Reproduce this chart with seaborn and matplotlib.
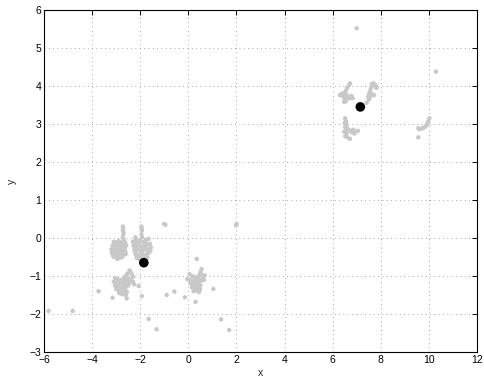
import matplotlib
matplotlib.use("Agg")
import matplotlib.pyplot as plt
import seaborn as sns
import pandas as pd

# gray data points (x, y)
pts_x = [
    # cluster A left
    -2.72, -2.72, -2.70, -2.73, -2.68, -2.71, -2.69,
    -3.10, -3.00, -2.90, -2.82, -2.75, -2.62, -3.05, -2.95, -2.86,
    -3.15, -3.05, -2.95, -2.85, -2.78, -2.65, -2.58, -3.08, -2.90, -2.70,
    -3.20, -3.12, -3.02, -2.88, -2.72, -2.62, -3.16, -2.96, -2.80, -2.66,
    -3.18, -3.08, -2.98, -2.80, -2.70, -2.60, -3.13, -2.90, -2.75,
    -3.10, -2.95, -2.85, -2.75, -3.02, -2.90,
    # cluster A right
    -1.95, -1.93, -1.95, -1.92, -2.20, -1.94, -2.18,
    -2.30, -2.20, -2.10, -2.00, -1.88, -1.75, -1.65, -2.25, -2.05, -1.80,
    -2.28, -2.15, -2.05, -1.95, -1.82, -1.70, -1.60, -2.22, -2.00, -1.76,
    -2.25, -2.12, -1.98, -1.85, -1.72, -1.62, -2.18, -1.92, -1.68,
    -2.20, -2.08, -1.90, -1.78, -1.65, -2.14, -1.84,
    -2.15, -1.95, -1.70, -1.55, -2.05, -1.58,
    # cluster B
    -2.45, -2.55, -2.35, -2.65, -2.50, -2.30, -2.40,
    -3.05, -2.95, -2.85, -2.75, -2.60, -2.40, -2.90, -2.68, -2.52,
    -3.10, -3.00, -2.90, -2.80, -2.70, -2.55, -2.45, -2.95, -2.75, -2.62,
    -3.05, -2.95, -2.85, -2.72, -2.60, -2.50, -3.00, -2.78, -2.66,
    -2.90, -2.80, -2.65, -2.55, -2.85, -2.70,
    -2.75, -2.60, -2.88, -2.30, -2.25, -2.68,
    # cluster C
    0.55, 0.50, 0.45, 0.15, 0.25, 0.35, 0.60, 0.52, 0.30,
    -0.05, 0.05, 0.15, 0.25, 0.35, 0.45, 0.55, 0.65, 0.20, 0.40,
    0.10, 0.20, 0.30, 0.40, 0.50, 0.25, 0.35, 0.45,
    0.15, 0.28, 0.40, 0.48, 0.22, 0.45, 0.34,
    0.05, 0.68,
    # scattered lower-left points
    0.35, -0.90, -0.58, -0.14, 0.30, 1.04, 1.36, 1.70,
    -1.01, -0.95, 2.01, 1.98, -3.73, -3.15, -2.56, -1.93,
    -5.81, -4.81, -1.65, -1.32, -2.07, -2.43,
    # cluster D top-left
    6.72, 6.68, 6.60, 6.55, 6.50, 6.45, 6.30, 6.38, 6.44, 6.50,
    6.55, 6.62, 6.72, 6.80, 6.83, 6.48, 6.76, 6.58,
    # cluster D top-right
    7.62, 7.70, 7.78, 7.82, 7.58, 7.55, 7.52, 7.48, 7.55, 7.65,
    7.72, 7.50, 7.41, 7.66,
    # cluster D lower
    6.52, 6.55, 6.50, 6.58, 6.52, 6.60, 6.55, 6.65, 6.75, 6.85,
    6.95, 7.05, 6.90, 6.58, 6.52, 6.62, 6.72, 6.48, 6.56, 6.80,
    # cluster E and outliers
    9.56, 9.56, 9.60, 9.72, 9.77, 9.85, 9.91, 9.95, 9.98, 10.02,
    10.29, 7.00,
]
pts_y = [
    0.30, 0.20, 0.10, 0.02, -0.05, 0.25, 0.15,
    -0.10, -0.12, -0.08, -0.15, -0.12, -0.12, -0.16, -0.14, -0.10,
    -0.20, -0.22, -0.20, -0.25, -0.22, -0.25, -0.20, -0.26, -0.28, -0.18,
    -0.30, -0.32, -0.28, -0.35, -0.32, -0.35, -0.36, -0.34, -0.30, -0.30,
    -0.40, -0.42, -0.45, -0.42, -0.45, -0.42, -0.46, -0.40, -0.38,
    -0.50, -0.55, -0.52, -0.50, -0.48, -0.48,
    0.30, 0.20, 0.10, 0.02, 0.02, 0.25, -0.02,
    -0.10, -0.08, -0.12, -0.05, -0.10, -0.05, -0.02, -0.14, -0.08, -0.12,
    -0.20, -0.22, -0.18, -0.22, -0.20, -0.18, -0.15, -0.26, -0.28, -0.25,
    -0.32, -0.30, -0.35, -0.30, -0.32, -0.30, -0.38, -0.38, -0.36,
    -0.42, -0.45, -0.42, -0.45, -0.40, -0.48, -0.48,
    -0.52, -0.50, -0.52, -0.25, -0.55, -0.34,
    -0.86, -0.95, -0.95, -1.02, -1.05, -1.02, -0.90,
    -1.05, -1.08, -1.10, -1.12, -1.12, -1.10, -1.14, -1.06, -1.15,
    -1.15, -1.18, -1.20, -1.18, -1.22, -1.20, -1.18, -1.24, -1.16, -1.26,
    -1.25, -1.28, -1.30, -1.28, -1.30, -1.25, -1.34, -1.34, -1.22,
    -1.38, -1.40, -1.38, -1.42, -1.33, -1.45,
    -1.48, -1.50, -1.45, -1.15, -1.22, -1.08,
    -0.82, -0.90, -0.98, -1.00, -1.02, -1.05, -1.05, -0.95, -1.08,
    -1.08, -1.10, -1.12, -1.15, -1.12, -1.15, -1.12, -1.10, -1.18, -1.06,
    -1.20, -1.22, -1.25, -1.20, -1.25, -1.28, -1.18, -1.28,
    -1.30, -1.32, -1.30, -1.35, -1.40, -1.42, -1.38,
    -0.95, -0.98,
    -0.55, -1.50, -1.41, -1.56, -1.68, -1.34, -2.14, -2.42,
    0.37, 0.35, 0.37, 0.33, -1.40, -1.57, -1.59, -1.53,
    -1.92, -1.92, -2.13, -2.40, -1.26, -0.86,
    4.07, 4.02, 3.95, 3.88, 3.82, 3.78, 3.76, 3.80, 3.72, 3.65,
    3.60, 3.68, 3.68, 3.72, 3.68, 3.58, 3.74, 3.76,
    4.05, 4.07, 4.02, 3.95, 3.92, 3.85, 3.80, 3.72, 3.70, 3.78,
    3.76, 3.64, 3.56, 4.00,
    3.15, 3.08, 3.02, 2.98, 2.92, 2.88, 2.82, 2.85, 2.82, 2.85,
    2.80, 2.82, 2.75, 2.75, 2.68, 2.65, 2.61, 2.80, 3.05, 2.78,
    2.65, 2.89, 2.86, 2.88, 2.90, 2.93, 2.97, 3.03, 3.08, 3.15,
    4.38, 5.52,
]

# cluster centres
cen_x = [-1.85, 7.15]
cen_y = [-0.65, 3.45]

x_ticks = [-6, -4, -2, 0, 2, 4, 6, 8, 10, 12]
y_ticks = [-3, -2, -1, 0, 1, 2, 3, 4, 5, 6]

sns.set_style("white")
plt.rcParams["font.family"] = ["Liberation Sans", "DejaVu Sans"]

df = pd.DataFrame({"x": pts_x, "y": pts_y})
dc = pd.DataFrame({"x": cen_x, "y": cen_y})

fig = plt.figure(figsize=(4.84, 3.85), dpi=100)
ax = fig.add_axes([0.0909, 0.0857, 0.8946, 0.8883])

sns.scatterplot(data=df, x="x", y="y", ax=ax, color="#c8c8c8", s=10,
                edgecolor="none", linewidth=0, zorder=3)
sns.scatterplot(data=dc, x="x", y="y", ax=ax, color="black", s=48,
                edgecolor="none", linewidth=0, zorder=4)

ax.set_xlim(-6, 12)
ax.set_ylim(-3, 6)
ax.set_xticks(x_ticks)
ax.set_yticks(y_ticks)
ax.set_xticklabels(["\u2212" + str(-t) if t < 0 else str(t) for t in x_ticks])
ax.set_yticklabels(["\u2212" + str(-t) if t < 0 else str(t) for t in y_ticks])
ax.grid(True, color="0.55", linestyle=(0, (1, 4.2)), linewidth=0.6, zorder=0)
ax.set_axisbelow(True)
ax.tick_params(direction="in", length=3.5, width=0.7, top=True, right=True,
               labelsize=7.5, pad=2, colors="black")
for sp in ax.spines.values():
    sp.set_color("black")
    sp.set_linewidth(0.8)
ax.set_xlabel("x", fontsize=7.5, labelpad=2)
ax.set_ylabel("y", fontsize=7.5, labelpad=9)

fig.savefig("out.png", dpi=100)
